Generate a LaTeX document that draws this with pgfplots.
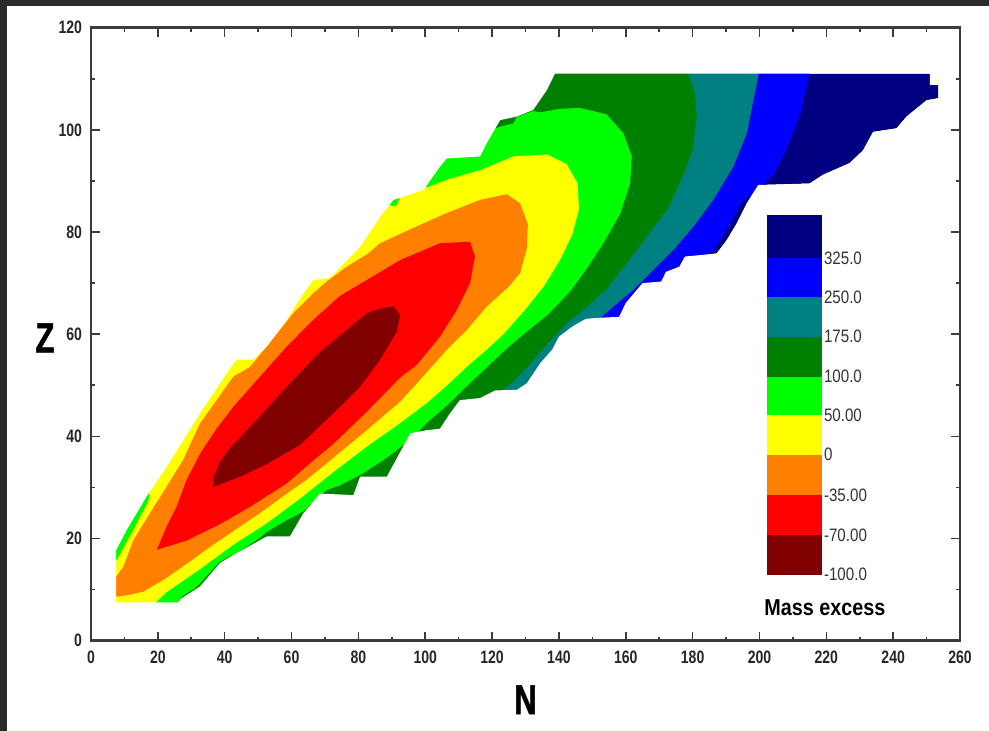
\documentclass[border=0pt]{standalone}
\usepackage{fontspec}
\setmainfont{Liberation Sans}
\newfontfamily\ticksfont[FakeStretch=0.78]{Liberation Sans}
\newfontfamily\cbfont[FakeStretch=0.84]{Liberation Sans}
\newfontfamily\bigfont[FakeStretch=0.74,FakeBold=1.2]{Liberation Sans}
\newfontfamily\titlefont[FakeStretch=0.86]{Liberation Sans}
\usepackage{pgfplots}
\pgfplotsset{compat=1.18}
\definecolor{cNavy}{RGB}{0,0,128}
\definecolor{cBlue}{RGB}{0,0,255}
\definecolor{cTeal}{RGB}{0,128,128}
\definecolor{cDkGreen}{RGB}{0,128,0}
\definecolor{cGreen}{RGB}{0,255,0}
\definecolor{cYellow}{RGB}{255,255,0}
\definecolor{cOrange}{RGB}{255,128,0}
\definecolor{cRed}{RGB}{255,0,0}
\definecolor{cDkRed}{RGB}{128,0,0}
\definecolor{frameGray}{RGB}{42,42,42}
\definecolor{axGray}{RGB}{60,60,60}
\begin{document}
\begin{tikzpicture}
\path[use as bounding box] (-45.5pt,-45.15pt) rectangle (449pt,320.35pt);
\fill[frameGray] (-45.5pt,-45.15pt) rectangle (-42pt,320.35pt);
\fill[frameGray] (-45.5pt,317.35pt) rectangle (449pt,320.35pt);
\begin{axis}[
  at={(0pt,0pt)}, anchor=south west,
  scale only axis, width=434.5pt, height=306.5pt,
  xmin=0, xmax=260, ymin=0, ymax=120,
  clip=false,
  xtick={0,20,...,260}, ytick={0,20,...,120},
  minor xtick={10,30,...,250}, minor ytick={10,30,...,110},
  tick align=inside,
  major tick length=4.5pt, minor tick length=2pt,
  every tick/.style={axGray, line width=0.8pt},
  axis line style={axGray, line width=1.2pt},
  axis on top,
  /pgf/number format/assume math mode=true,
  tick label style={font=\ticksfont\bfseries\fontsize{9}{10}\selectfont, text=black!85},
  xticklabel style={yshift=-1.5pt},
  yticklabel style={xshift=-1pt},
  no markers,
  every axis plot/.append style={forget plot},
]
% whole band (highest level)
\addplot[fill=cNavy, draw=none] coordinates {
(7.5,7.5)(7.5,17.7)(10.7,21.7)(16.6,28.2)(22.6,34)(32.6,44.5)(42.6,54.3)(43.6,55)(48.6,55)(52.6,57.6)(58.6,62.8)(62.5,67)(66.5,70.6)(71.5,71)(80.5,77.1)(86.5,83)(90.5,86.3)(99.4,88.2)(104.4,92.8)(106.4,94.4)(116.4,94.8)(118.4,97.4)(122.4,101.9)(127.4,102.6)(132.3,103.9)(136.4,107.8)(138.8,111)(251,111)(251,108.8)(253.5,108.8)(253.5,106.2)(250,105.8)(244,102.6)(241,100.3)(234,99.6)(231,96)(227,93.5)(219,91.2)(215,89.5)(199.6,89.2)(196.2,85.6)(193.2,81.7)(190.2,78.4)(187.2,75.8)(177.7,75.2)(176,73.2)(172,72.2)(170.6,70.3)(165,70)(160,66.1)(158,63.4)(151.8,63.2)(148,63)(144,61.5)(140,59.5)(138,57)(134.4,54.3)(130.4,50.4)(127.4,49.1)(121,49)(116.4,47.5)(110.4,47.1)(107.4,44.5)(104.4,41.5)(100.4,41.2)(95.5,40.6)(93.4,38)(88.5,32.1)(80.5,32.1)(78.5,28.5)(68.5,28.8)(63.5,24.9)(59.5,20.4)(52.6,20.4)(50.6,19.7)(41.6,16.4)(38.6,15.2)(32.6,10.6)(27.1,8.3)(26,7.5)};
% below 325
\addplot[fill=cBlue, draw=none] coordinates {
(215,120)(215,111)(212,102.6)(208,96)(204,91)(200,88.5)(197,87)(194.4,85.6)(191.4,81.7)(188.4,78.4)(185.4,75.7)(183,73)(175,60)(170,0)(0,0)(0,120)};
% below 250
\addplot[fill=cTeal, draw=none] coordinates {
(199.7,120)(199.7,111)(199.2,109)(196.2,99.3)(192.2,92.8)(186.2,86.3)(180.2,81)(174.3,76.5)(168.3,72.6)(162.3,68.7)(156.3,65.4)(152.3,63.1)(150,58)(140,0)(0,0)(0,120)};
% below 175
\addplot[fill=cDkGreen, draw=none] coordinates {
(178.7,120)(178.7,111)(180.7,107.2)(181.2,102.6)(180,96)(176.2,89.6)(172.3,84.3)(166.3,79.1)(160.3,73.9)(154.3,68.9)(148.3,65.3)(143,62.5)(138.5,59.5)(134.4,56.5)(130.5,53.5)(126,50.5)(123.5,49.2)(122,45)(110,0)(0,0)(0,120)};
% below 100
\addplot[fill=cGreen, draw=none] coordinates {
(110,120)(119,99)(121,100.3)(122.8,100.7)(126.3,101.2)(127.4,102.5)(132.3,103.7)(134.3,103.4)(140,104.1)(146.3,104.3)(154.3,103)(159.3,99.3)(161.8,94.8)(161.3,89.5)(158.3,83.5)(153,77.5)(148.5,73)(143.5,68.5)(137,64)(130.4,60.5)(124.4,57.2)(118.4,53.5)(112.4,49.8)(106.4,46)(100.4,42.6)(96.4,39.8)(88.5,35.8)(81.5,32.8)(74.5,30.4)(70.5,29.5)(67,27.5)(63.5,25.3)(58.6,23.6)(52.6,21.3)(50.6,20.2)(46.6,18.4)(43.6,17.1)(41.6,16.6)(38.4,15.4)(33,11.5)(31,10.2)(27.5,8.8)(25.6,7.3)(25,0)(0,0)(0,120)};
% below 50
\addplot[fill=cYellow, draw=none] coordinates {
(0,15.5)(7.5,15.5)(12.7,21.7)(17.1,27.2)(17.5,28.5)(15,35)(40,80)(85,95)(88,88)(89.5,85.2)(91.2,85)(92.5,86.8)(95,92)(100.4,88.7)(106.4,90.2)(116.4,92.1)(126.4,94.8)(136.4,95.2)(142.3,93.3)(145.6,89.5)(146,84.5)(144,79.5)(140.3,74.5)(135.4,69.3)(129.5,64.5)(123.4,60)(118.4,57)(112.4,53.6)(106.4,49.9)(100.4,46.5)(92.5,42.6)(82.5,38)(72.5,33)(62.5,27.8)(52.6,23)(42.6,18.8)(32.6,14)(22.6,9.5)(19,7.3)(19,0)(0,0)};
% below 0
\addplot[fill=cOrange, draw=none] coordinates {
(0,12.5)(7.5,12.5)(9.7,14.5)(12.7,19.7)(17.6,24.9)(22.6,30.1)(27.6,35.4)(32.6,42.5)(42.6,51.7)(47.6,53.6)(52.6,57.6)(60.5,64.1)(66.5,68)(70.5,70.3)(76.5,73.2)(82.5,75.6)(86.5,77.8)(96.4,80.8)(106.4,83.7)(116.4,86.3)(124.4,87.4)(128.4,85.6)(130.7,81.5)(130.4,76.8)(128.4,72)(125,69.3)(118.4,65.4)(112.4,60.8)(106.4,56.9)(100.4,52.5)(92.5,46.8)(82.5,41.2)(72.5,35.8)(64.5,31.5)(57.5,28.3)(50.6,25)(43.6,21.9)(36.6,18.8)(29.6,15.5)(22.6,12.3)(15.7,9.6)(10.7,8.9)(7.5,8.6)(0,8.6)};
% below -35
\addplot[fill=cRed, draw=none] coordinates {
(19.7,17.8)(28.6,19.6)(38.6,22.8)(47.6,26.2)(58.6,30.8)(66,35)(72.5,38.5)(82.5,44.8)(92.5,51.5)(97.5,54)(104.4,59.5)(109.4,64.7)(113.4,70)(114.9,75.2)(113.4,78.1)(104.4,77.8)(92.5,74.5)(82.5,70.6)(74.5,67.5)(66.5,62.8)(58.6,57.6)(50.6,51.7)(42.6,45.8)(37.6,41.5)(33,37)(28.6,31.5)(25.6,26.2)(22.6,22.3)};
% below -70
\addplot[fill=cDkRed, draw=none] coordinates {
(36.6,30.1)(44.6,32.1)(52.6,34.6)(62.5,38.3)(72.5,44.5)(80.5,49.7)(86.5,55)(91.5,60.5)(92.5,63.8)(90.5,65.4)(86.5,65)(82.5,64.1)(76.5,60.8)(68.5,56.5)(58.6,49.7)(48.6,42.5)(42,38)(38.6,35)(36.6,32)};
% white mask outside the band
\addplot[fill=white, draw=none] coordinates {
(0,0)(260,0)(260,120)(0,120)(0,0)
(7.5,7.5)(7.5,17.7)(10.7,21.7)(16.6,28.2)(22.6,34)(32.6,44.5)(42.6,54.3)(43.6,55)(48.6,55)(52.6,57.6)(58.6,62.8)(62.5,67)(66.5,70.6)(71.5,71)(80.5,77.1)(86.5,83)(90.5,86.3)(99.4,88.2)(104.4,92.8)(106.4,94.4)(116.4,94.8)(118.4,97.4)(122.4,101.9)(127.4,102.6)(132.3,103.9)(136.4,107.8)(138.8,111)(251,111)(251,108.8)(253.5,108.8)(253.5,106.2)(250,105.8)(244,102.6)(241,100.3)(234,99.6)(231,96)(227,93.5)(219,91.2)(215,89.5)(199.6,89.2)(196.2,85.6)(193.2,81.7)(190.2,78.4)(187.2,75.8)(177.7,75.2)(176,73.2)(172,72.2)(170.6,70.3)(165,70)(160,66.1)(158,63.4)(151.8,63.2)(148,63)(144,61.5)(140,59.5)(138,57)(134.4,54.3)(130.4,50.4)(127.4,49.1)(121,49)(116.4,47.5)(110.4,47.1)(107.4,44.5)(104.4,41.5)(100.4,41.2)(95.5,40.6)(93.4,38)(88.5,32.1)(80.5,32.1)(78.5,28.5)(68.5,28.8)(63.5,24.9)(59.5,20.4)(52.6,20.4)(50.6,19.7)(41.6,16.4)(38.6,15.2)(32.6,10.6)(27.1,8.3)(26,7.5)(7.5,7.5)(0,0)};
% colour bar
\addplot[fill=cNavy, draw=none] coordinates {(202.2,74.9)(218.8,74.9)(218.8,83.3)(202.2,83.3)};
\addplot[fill=cBlue, draw=none] coordinates {(202.2,67.3)(218.8,67.3)(218.8,74.9)(202.2,74.9)};
\addplot[fill=cTeal, draw=none] coordinates {(202.2,59.5)(218.8,59.5)(218.8,67.3)(202.2,67.3)};
\addplot[fill=cDkGreen, draw=none] coordinates {(202.2,51.7)(218.8,51.7)(218.8,59.5)(202.2,59.5)};
\addplot[fill=cGreen, draw=none] coordinates {(202.2,44.1)(218.8,44.1)(218.8,51.7)(202.2,51.7)};
\addplot[fill=cYellow, draw=none] coordinates {(202.2,36.4)(218.8,36.4)(218.8,44.1)(202.2,44.1)};
\addplot[fill=cOrange, draw=none] coordinates {(202.2,28.5)(218.8,28.5)(218.8,36.4)(202.2,36.4)};
\addplot[fill=cRed, draw=none] coordinates {(202.2,20.7)(218.8,20.7)(218.8,28.5)(202.2,28.5)};
\addplot[fill=cDkRed, draw=none] coordinates {(202.2,12.9)(218.8,12.9)(218.8,20.7)(202.2,20.7)};
\begin{scope}[every node/.style={anchor=west, inner sep=0pt, font=\cbfont\fontsize{9}{10}\selectfont, text=black!80}]
\node at (axis cs:219.2,74.9) {325.0};
\node at (axis cs:219.2,67.3) {250.0};
\node at (axis cs:219.2,59.5) {175.0};
\node at (axis cs:219.2,51.7) {100.0};
\node at (axis cs:219.2,44.1) {50.00};
\node at (axis cs:219.2,36.4) {0};
\node at (axis cs:219.2,28.5) {-35.00};
\node at (axis cs:219.2,20.7) {-70.00};
\node at (axis cs:219.2,12.9) {-100.0};
\end{scope}
\node[font=\titlefont\bfseries\fontsize{11.5}{13}\selectfont, inner sep=0pt] at (axis cs:219.6,6.4) {Mass excess};
\node[font=\bigfont\bfseries\fontsize{21}{24}\selectfont, inner sep=0pt] at (rel axis cs:0.5,0) [yshift=-29.5pt] {N};
\node[font=\bigfont\bfseries\fontsize{21}{24}\selectfont, inner sep=0pt] at (rel axis cs:0,0.494) [xshift=-23pt] {Z};
\end{axis}
\end{tikzpicture}
\end{document}
